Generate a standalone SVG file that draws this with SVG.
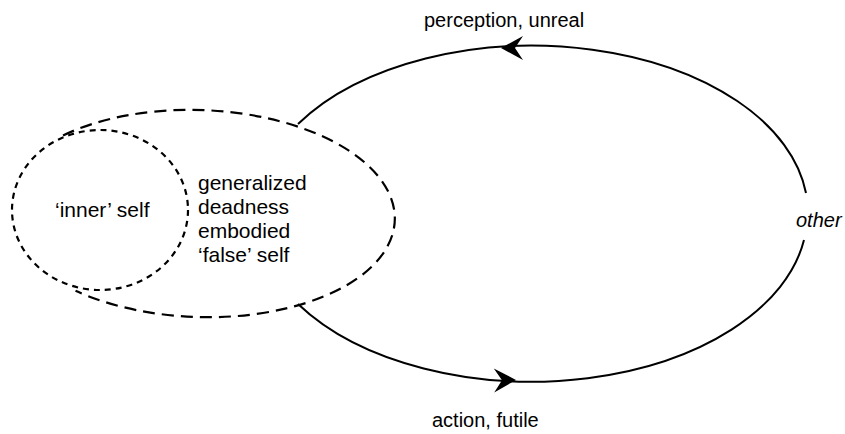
<svg xmlns="http://www.w3.org/2000/svg" width="845" height="434" viewBox="0 0 845 434">
  <style>
    .lbl { font-family: "Liberation Sans", Arial, sans-serif; font-size: 20px; fill: #000; }
    .big { font-size: 21px; }
    .it { font-style: italic; }
    .solid { fill: none; stroke: #000; stroke-width: 2; }
    .dash-long { fill: none; stroke: #000; stroke-width: 2.2; stroke-dasharray: 12 7; }
    .dash-short { fill: none; stroke: #000; stroke-width: 2.2; stroke-dasharray: 6 5; }
  </style>
  <defs>
    <!-- barbed arrowhead, tip at origin, pointing along +x -->
    <path id="barb" d="M0,0 L-22,-12 L-14,0 L-22,12 Z" fill="#000"/>
  </defs>

  <g id="self-false">
    <!-- outer boundary, open where it joins the inner self on the left -->
    <path class="dash-long" transform="rotate(2 199 213.5)" d="M60.4,140.3 A196,103.5 0 1 1 78.3,295.1"/>
    <text class="lbl big" x="198" y="190">generalized</text>
    <text class="lbl big" x="198" y="214">deadness</text>
    <text class="lbl big" x="198" y="238">embodied</text>
    <text class="lbl big" x="198" y="262">‘false’ self</text>
  </g>

  <g id="self-inner">
    <ellipse class="dash-short" cx="100" cy="210" rx="88" ry="80"/>
    <text class="lbl big" x="55" y="217">‘inner’ self</text>
  </g>

  <g id="other">
    <text class="lbl it" x="796" y="227">other</text>
  </g>

  <g id="connectors">
    <!-- perception loop: other back to self -->
    <path class="solid" d="M806,193 A276,167 0 0 0 298,124"/>
    <use href="#barb" transform="translate(501,48) rotate(180)"/>
    <text class="lbl" x="424" y="27">perception, unreal</text>
    <!-- action loop: self out to other -->
    <path class="solid" d="M298,304 A276,167 0 0 0 804,240"/>
    <use href="#barb" transform="translate(516,380) rotate(-1)"/>
    <text class="lbl" x="432" y="427">action, futile</text>
  </g>
</svg>
